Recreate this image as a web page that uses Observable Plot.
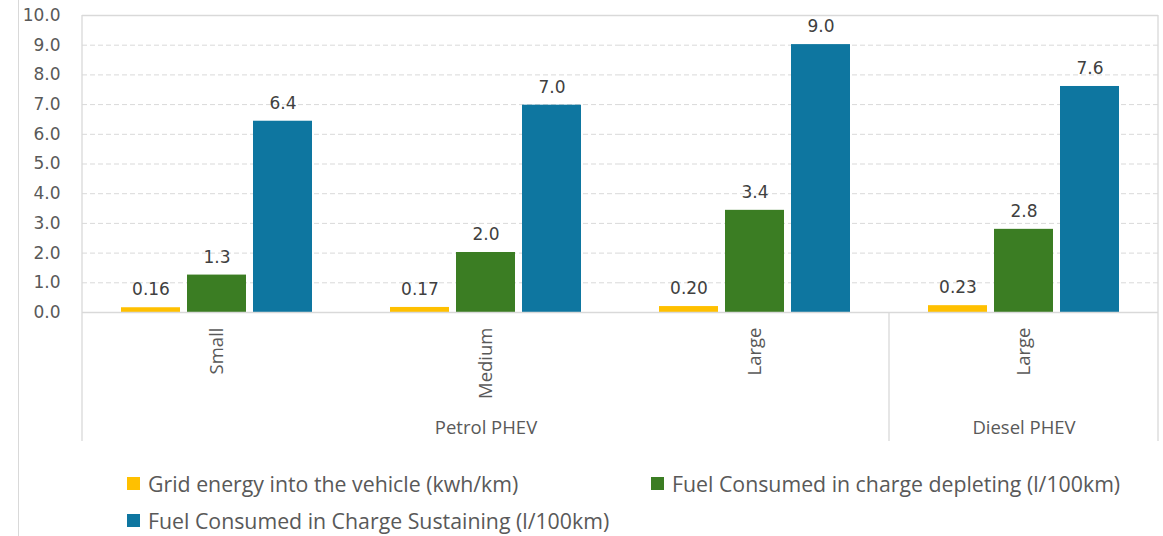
<!DOCTYPE html>
<html>
<head>
<meta charset="utf-8">
<script src="https://cdn.jsdelivr.net/npm/d3@7"></script>
<script src="https://cdn.jsdelivr.net/npm/@observablehq/plot@0.6"></script>
<style>
  html, body { margin: 0; padding: 0; background: #ffffff; }
  #wrap { position: relative; width: 1163px; height: 536px; overflow: hidden; background: #fff; }
  #leftline { position: absolute; left: 18px; top: 0; width: 1px; height: 536px; background: #d9d9d9; }
  #chart { position: absolute; left: 0; top: 0; }
  #legend { position: absolute; left: 127px; top: 465px; display: grid; grid-template-columns: 524px auto; grid-auto-rows: 37px;
            font-family: "Open Sans", sans-serif; font-size: 21.3px; color: #595959; }
  .item { display: flex; align-items: center; white-space: nowrap; }
  .swatch { width: 13px; height: 13px; margin-right: 8px; flex: none; }
</style>
</head>
<body>
<div id="wrap">
  <div id="leftline"></div>
  <div id="chart"></div>
  <div id="legend"></div>
</div>
<script>
// ---- data ----
const groups = ["Petrol PHEV", "Petrol PHEV", "Petrol PHEV", "Diesel PHEV"];
const sizes = ["Small", "Medium", "Large", "Large"];
const seriesNames = [
  "Grid energy into the vehicle (kwh/km)",
  "Fuel Consumed in charge depleting (l/100km)",
  "Fuel Consumed in Charge Sustaining (l/100km)"
];
const gridEnergy = [0.16, 0.17, 0.20, 0.23];
const fuelDepleting = [1.26, 2.02, 3.44, 2.80];
const fuelSustaining = [6.44, 6.98, 9.02, 7.61];
const labelDecimals = [2, 1, 1];
const yTicks = [0, 1, 2, 3, 4, 5, 6, 7, 8, 9, 10];
const colors = ["#FFC000", "#3B7D23", "#0E76A0"];

// ---- tables ----
const keys = groups.map((g, i) => g + "|" + sizes[i]);
const seriesValues = [gridEnergy, fuelDepleting, fuelSustaining];
const rows = [];
keys.forEach((k, i) => {
  seriesNames.forEach((s, j) => {
    rows.push({key: k, series: s, value: seriesValues[j][i], label: seriesValues[j][i].toFixed(labelDecimals[j])});
  });
});
const sizeRows = keys.map((k, i) => ({key: k, size: sizes[i]}));
// group label placed at the middle member of each group
const groupNames = Array.from(new Set(groups));
const groupRows = groupNames.map(g => {
  const members = keys.filter((k, i) => groups[i] === g);
  return {key: members[Math.floor(members.length / 2)], group: g};
});

const H = 446;
const plot = Plot.plot({
  width: 1163,
  height: H,
  marginLeft: 82,
  marginRight: 5,
  marginTop: 15,
  marginBottom: 134,
  style: {fontFamily: "DejaVu Sans", fontSize: "17px", color: "#595959", background: "transparent", overflow: "visible"},
  fx: {domain: keys, padding: 0, axis: null, label: null},
  x: {domain: seriesNames, paddingInner: 0.1, paddingOuter: 0.57, axis: null, label: null},
  y: {domain: [0, 10], axis: null, label: null},
  color: {domain: seriesNames, range: colors},
  marks: [
    Plot.gridY(yTicks.filter(t => t > 0 && t < 10), {stroke: "#d9d9d9", strokeOpacity: 1, strokeDasharray: "5,3"}),
    Plot.axisY(yTicks, {tickSize: 0, tickPadding: 22, tickFormat: d => d.toFixed(1), fill: "#595959", fontSize: 17, label: null, facetAnchor: "left"}),
    Plot.barY(rows, {fx: "key", x: "series", y: "value", fill: "series"}),
    Plot.text(rows, {fx: "key", x: "series", y: "value", text: "label", dy: -18, fill: "#404040", fontSize: 17}),
    Plot.ruleY([0, 10], {stroke: "#d9d9d9", strokeWidth: 1.3}),
    Plot.text(sizeRows, {fx: "key", text: "size", frameAnchor: "bottom", rotate: -90, textAnchor: "end", lineAnchor: "middle", dy: 15,
      fill: "#595959", fontFamily: "Open Sans", fontSize: 18.5}),
    Plot.text(groupRows, {fx: "key", text: "group", frameAnchor: "bottom", lineAnchor: "middle", dy: 116,
      fill: "#595959", fontFamily: "Open Sans", fontSize: 18.5})
  ]
});

// frame lines of the chart area, placed with the plot's own scales
const fxS = plot.scale("fx");
const yS = plot.scale("y");
const xLeft = fxS.apply(keys[0]);
const xRight = fxS.apply(keys[keys.length - 1]) + fxS.bandwidth;
const yTop = yS.apply(10);
const yZero = yS.apply(0);
const yBottom = H - 5;
const g = d3.select(plot).append("g").attr("stroke", "#d9d9d9").attr("stroke-width", 1.3);
g.append("line").attr("x1", xLeft).attr("x2", xLeft).attr("y1", yTop).attr("y2", yBottom);
g.append("line").attr("x1", xRight).attr("x2", xRight).attr("y1", yTop).attr("y2", yBottom);
// dividers between groups in the category area
keys.forEach((k, i) => {
  if (i > 0 && groups[i] !== groups[i - 1]) {
    const xd = fxS.apply(k);
    g.append("line").attr("x1", xd).attr("x2", xd).attr("y1", yZero).attr("y2", yBottom);
  }
});
document.getElementById("chart").appendChild(plot);

// legend
const legend = document.getElementById("legend");
seriesNames.forEach((s, j) => {
  const item = document.createElement("div");
  item.className = "item";
  const sw = document.createElement("span");
  sw.className = "swatch";
  sw.style.background = colors[j];
  const tx = document.createElement("span");
  tx.textContent = s;
  item.appendChild(sw);
  item.appendChild(tx);
  legend.appendChild(item);
});
</script>
</body>
</html>
